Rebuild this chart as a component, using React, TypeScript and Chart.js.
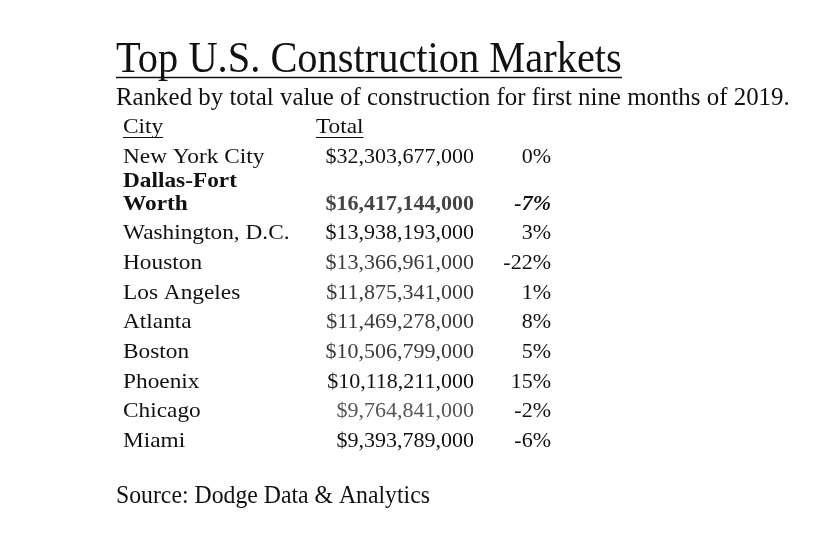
import React, { useEffect, useRef } from "react";
import { Chart, registerables } from "chart.js";

Chart.register(...registerables);

// ---- data ----
const titleText = "Top U.S. Construction Markets";
const subtitleText = "Ranked by total value of construction for first nine months of 2019.";
const headerCity = "City";
const headerTotal = "Total";
const sourceText = "Source: Dodge Data & Analytics";

const cities: string[][] = [
  ["New York City"],
  ["Dallas-Fort", "Worth"],
  ["Washington, D.C."],
  ["Houston"],
  ["Los Angeles"],
  ["Atlanta"],
  ["Boston"],
  ["Phoenix"],
  ["Chicago"],
  ["Miami"],
];
const totals = [
  32303677000, 16417144000, 13938193000, 13366961000, 11875341000,
  11469278000, 10506799000, 10118211000, 9764841000, 9393789000,
];
const changes = [0, -7, 3, -22, 1, 8, 5, 15, -2, -6];

// ---- styles ----
const boldRows = [false, true, false, false, false, false, false, false, false, false];
const totalColors = ["#111", "#444", "#111", "#3a3a3a", "#3a3a3a", "#3a3a3a", "#3a3a3a", "#111", "#555", "#111"];
const WRAP_EXTRA = 0.59; // extra row height taken by a wrapped label
const WRAP_LINE_PX = 23;
const SERIF = "'Liberation Serif', serif";
const NAME_SX = 1.06;

// row positions in "row units", derived from label line counts
const rowPos: number[] = [];
cities.forEach((lines, i) => {
  const prev = i === 0 ? -1 : rowPos[i - 1];
  rowPos.push(prev + 1 + (lines.length - 1) * WRAP_EXTRA);
});

const fmtTotal = (v: number) => "$" + v.toLocaleString("en-US");
const fmtChange = (v: number) => `${v}%`;

function fitSize(ctx: CanvasRenderingContext2D, text: string, weight: string, target: number) {
  ctx.font = `${weight} 100px ${SERIF}`;
  const w = ctx.measureText(text).width;
  return (100 * target) / w;
}

function drawScaled(ctx: CanvasRenderingContext2D, text: string, x: number, y: number, sx: number, sy: number) {
  ctx.save();
  ctx.translate(x, y);
  ctx.scale(sx, sy);
  ctx.fillText(text, 0, 0);
  ctx.restore();
  return ctx.measureText(text).width * sx;
}

const tablePlugin = {
  id: "tablePlugin",
  afterDraw(chart: any) {
    const { ctx, chartArea, scales } = chart;
    const y = scales.y;
    const left = chartArea.left;
    ctx.save();
    ctx.textBaseline = "alphabetic";
    ctx.fillStyle = "#111";
    ctx.strokeStyle = "#111";
    ctx.textAlign = "left";

    // title
    let s = fitSize(ctx, titleText, "normal", 506);
    ctx.font = `normal ${s}px ${SERIF}`;
    drawScaled(ctx, titleText, left, 72, 1, 1.1);
    ctx.lineWidth = 1.5;
    ctx.beginPath();
    ctx.moveTo(left, 77.5);
    ctx.lineTo(left + 506, 77.5);
    ctx.stroke();

    // subtitle
    s = fitSize(ctx, subtitleText, "normal", 674);
    ctx.font = `normal ${s}px ${SERIF}`;
    drawScaled(ctx, subtitleText, left, 105, 1, 1.05);

    // header
    const nameX = left + 7;
    const totalRight = left + 358;
    const changeRight = left + 435;
    const hy = y.getPixelForValue(-1);
    ctx.font = `normal 22px ${SERIF}`;
    const cw = drawScaled(ctx, headerCity, nameX, hy, NAME_SX, 1);
    const totalX = left + 200;
    const tw = drawScaled(ctx, headerTotal, totalX, hy, NAME_SX, 1);
    ctx.lineWidth = 1;
    ctx.beginPath();
    ctx.moveTo(nameX, hy + 4.5);
    ctx.lineTo(nameX + cw, hy + 4.5);
    ctx.moveTo(totalX, hy + 4.5);
    ctx.lineTo(totalX + tw, hy + 4.5);
    ctx.stroke();

    // rows
    cities.forEach((lines, i) => {
      const py = y.getPixelForValue(rowPos[i]);
      const weight = boldRows[i] ? "bold" : "normal";
      ctx.font = `${weight} 22px ${SERIF}`;
      ctx.fillStyle = "#111";
      ctx.textAlign = "left";
      lines.forEach((ln, k) => {
        drawScaled(ctx, ln, nameX, py - (lines.length - 1 - k) * WRAP_LINE_PX, NAME_SX, 1);
      });
      ctx.textAlign = "right";
      ctx.fillStyle = totalColors[i];
      ctx.fillText(fmtTotal(totals[i]), totalRight, py);
      ctx.fillStyle = "#111";
      ctx.font = `${boldRows[i] ? "bold italic" : "normal"} 22px ${SERIF}`;
      ctx.fillText(fmtChange(changes[i]), changeRight, py);
    });

    // source
    ctx.textAlign = "left";
    ctx.fillStyle = "#111";
    s = fitSize(ctx, sourceText, "normal", 314);
    ctx.font = `normal ${s}px ${SERIF}`;
    drawScaled(ctx, sourceText, left, 503, 1, 1.05);
    ctx.restore();
  },
};

export default function App() {
  const ref = useRef<HTMLCanvasElement | null>(null);
  useEffect(() => {
    if (!ref.current) return;
    const chart = new Chart(ref.current, {
      type: "scatter",
      data: {
        datasets: [
          {
            data: totals.map((v, i) => ({ x: v, y: rowPos[i] })),
            pointRadius: 0,
            pointHoverRadius: 0,
          },
        ],
      },
      options: {
        animation: false,
        responsive: true,
        maintainAspectRatio: false,
        layout: { padding: { top: 133, bottom: 90, left: 116, right: 0 } },
        plugins: { legend: { display: false }, tooltip: { enabled: false } },
        scales: {
          x: { type: "linear", display: false, min: 0, max: 40000000000 },
          y: { type: "linear", display: false, reverse: true, min: -1, max: rowPos[rowPos.length - 1] },
        },
      },
      plugins: [tablePlugin],
    });
    return () => chart.destroy();
  }, []);
  return (
    <div style={{ position: "fixed", left: 0, top: 0, width: 830, height: 537, background: "#fff" }}>
      <canvas ref={ref} />
    </div>
  );
}
